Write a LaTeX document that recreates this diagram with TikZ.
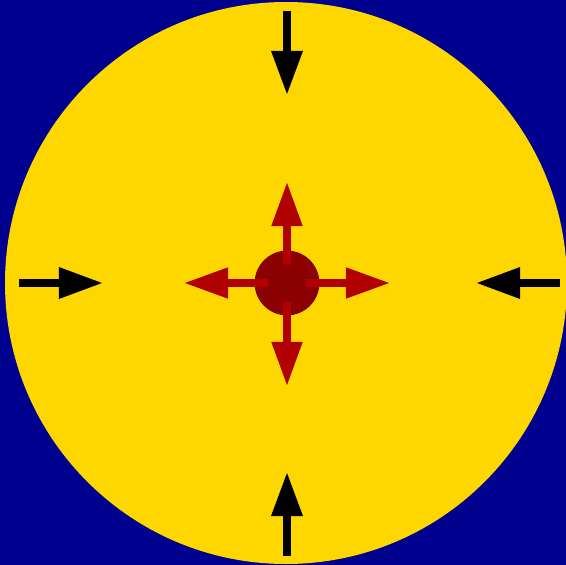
\documentclass[tikz,border=0pt]{standalone}
\usepackage{tikz}
\usetikzlibrary{arrows.meta}
\definecolor{deepsea}{HTML}{00008F}
\definecolor{sunbed}{HTML}{FFD700}
\definecolor{corered}{HTML}{8B0000}
\definecolor{blastred}{HTML}{B00000}

\begin{document}
\begin{tikzpicture}[
      x=0.025cm, y=-0.025cm,
      core/.style={circle, fill=corered, minimum size=1.62cm, inner sep=0pt},
      inarr/.style={-{Triangle[length=1.1cm, width=0.74cm]}, line width=0.19cm, color=black},
      outarr/.style={-{Triangle[length=1.1cm, width=0.73cm]}, line width=0.18cm, color=blastred}
    ]
      \useasboundingbox (0,0) rectangle (566,565);
      \fill[deepsea] (0,0) rectangle (566,565);
      \fill[sunbed] (286,283) circle[radius=281];
      % pressure from outside
      \coordinate (ntail) at (287,11);   \coordinate (nhead) at (287,95);
      \coordinate (stail) at (287,556);  \coordinate (shead) at (287,472);
      \coordinate (wtail) at (19,283);   \coordinate (whead) at (103,283);
      \coordinate (etail) at (560,283);  \coordinate (ehead) at (476,283);
      \draw[inarr] (ntail) -- (nhead);
      \draw[inarr] (stail) -- (shead);
      \draw[inarr] (wtail) -- (whead);
      \draw[inarr] (etail) -- (ehead);
      % core and outward push
      \node[core] (kern) at (287,283) {};
      \coordinate (nout) at (287,182);
      \coordinate (sout) at (287,386);
      \coordinate (wout) at (184,283);
      \coordinate (eout) at (390,283);
      \draw[outarr] ([yshift=19*0.025cm]kern.center) -- (nout);
      \draw[outarr] ([yshift=-19*0.025cm]kern.center) -- (sout);
      \draw[outarr] ([xshift=-19*0.025cm]kern.center) -- (wout);
      \draw[outarr] ([xshift=19*0.025cm]kern.center) -- (eout);
    \end{tikzpicture}
\end{document}
